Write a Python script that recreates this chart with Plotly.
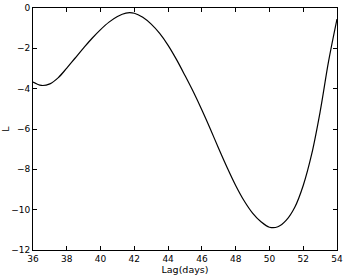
import plotly.graph_objects as go

lag_days = [36, 36.5, 37, 37.5, 38, 38.5, 39, 39.5, 40, 40.5, 41, 41.5, 42, 42.5,
            43, 43.5, 44, 44.5, 45, 45.5, 46, 46.5, 47, 47.5, 48, 48.5, 49, 49.5,
            50, 50.5, 51, 51.5, 52, 52.5, 53, 53.5, 54]
L_values = [-3.67, -3.84, -3.76, -3.45, -2.98, -2.48, -1.98, -1.5, -1.07, -0.7,
            -0.42, -0.25, -0.26, -0.46, -0.8, -1.26, -1.85, -2.56, -3.35, -4.17,
            -5.06, -6.0, -6.98, -7.92, -8.8, -9.56, -10.17, -10.6, -10.87, -10.85,
            -10.52, -9.88, -8.8, -7.25, -5.15, -2.65, -0.55]

x_ticks = [36, 38, 40, 42, 44, 46, 48, 50, 52, 54]
y_ticks = [0, -2, -4, -6, -8, -10, -12]
y_tick_text = ["0", "\u22122", "\u22124", "\u22126", "\u22128", "\u221210", "\u221212"]

fig = go.Figure()
fig.add_trace(go.Scatter(
    x=lag_days, y=L_values, mode="lines",
    line=dict(color="black", width=1.2, shape="spline", smoothing=1.0),
    showlegend=False, hoverinfo="skip",
))

axis_common = dict(
    showline=True, linecolor="black", linewidth=1, mirror="allticks",
    ticks="inside", ticklen=4, tickwidth=1, tickcolor="black",
    showgrid=False, zeroline=False,
    tickfont=dict(family="DejaVu Sans", size=9, color="black"),
)

fig.update_layout(
    width=346, height=277,
    margin=dict(l=33, r=9, t=8, b=27),
    paper_bgcolor="white", plot_bgcolor="white",
    font=dict(family="DejaVu Sans", size=9, color="black"),
    xaxis=dict(range=[36, 54], tickvals=x_ticks,
               title=dict(text="Lag(days)", font=dict(size=9.5), standoff=2),
               automargin=False, **axis_common),
    yaxis=dict(range=[-12, 0], tickvals=y_ticks, ticktext=y_tick_text,
               title=dict(text="L", font=dict(size=9.5), standoff=2),
               automargin=False, **axis_common),
)

fig.write_html("out.html", config={"displayModeBar": False},
               post_script="document.body.style.margin='0';document.body.style.overflow='hidden';")
